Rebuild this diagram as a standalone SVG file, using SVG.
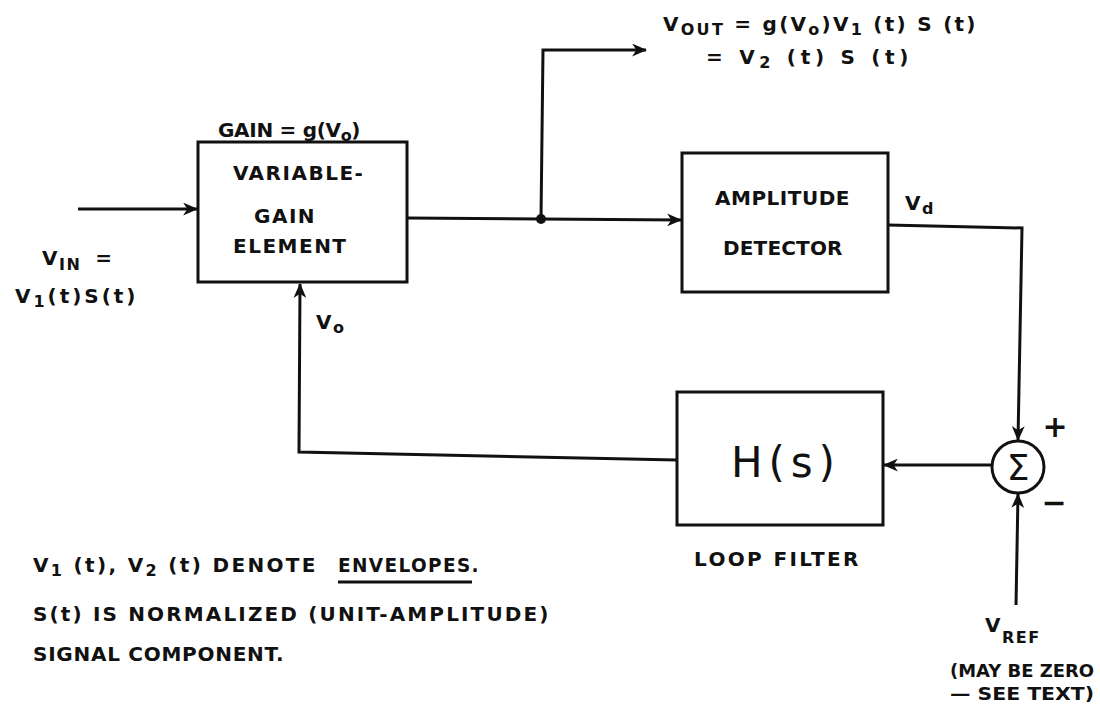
<svg xmlns="http://www.w3.org/2000/svg" width="1100" height="718" viewBox="0 0 1100 718">
<style>
.t{font-family:"DejaVu Sans","Liberation Sans",sans-serif;font-weight:bold;font-size:20px;letter-spacing:1.5px;fill:#111}
.s{font-size:16px}
.box{fill:none;stroke:#111;stroke-width:3}
.w{fill:none;stroke:#111;stroke-width:3}
</style>
<defs>
<marker id="ah" viewBox="0 0 14 12" refX="13" refY="6" markerWidth="15" markerHeight="13" markerUnits="userSpaceOnUse" orient="auto">
<path d="M0,0 L14,6 L0,12 L4,6 Z" fill="#111"/>
</marker>
</defs>
<rect width="1100" height="718" fill="#fff"/>

<g id="connectors">
<polyline class="w" points="78,209 197,209" marker-end="url(#ah)"/>
<polyline class="w" points="407,218 541,219 681,220" marker-end="url(#ah)"/>
<polyline class="w" points="541,219 543,50 646,50" marker-end="url(#ah)"/>
<circle cx="541" cy="219" r="5" fill="#111"/>
<polyline class="w" points="888,225 1022,228 1018,440" marker-end="url(#ah)"/>
<polyline class="w" points="992,465 884,465" marker-end="url(#ah)"/>
<polyline class="w" points="1016,605 1018,494" marker-end="url(#ah)"/>
<polyline class="w" points="677,460 299,452 300,284" marker-end="url(#ah)"/>
</g>

<g id="vge">
<rect class="box" x="198" y="142" width="209" height="140"/>
<text class="t" x="233" y="180">VARIABLE-</text>
<text class="t" x="254" y="223">GAIN</text>
<text class="t" x="233" y="253">ELEMENT</text>
</g>

<g id="detector">
<rect class="box" x="682" y="153" width="206" height="139"/>
<text class="t" x="715" y="205" textLength="136" lengthAdjust="spacing">AMPLITUDE</text>
<text class="t" x="723" y="255" textLength="121" lengthAdjust="spacing">DETECTOR</text>
</g>

<g id="filter">
<rect class="box" x="677" y="392" width="206" height="133"/>
<text x="731" y="477" textLength="104" lengthAdjust="spacing" style="font-family:'DejaVu Sans',sans-serif;font-size:42px;fill:#111">H(s)</text>
<text class="t" x="694" y="566" textLength="166" lengthAdjust="spacing">LOOP FILTER</text>
</g>

<g id="sum">
<circle class="box" cx="1018" cy="467" r="26"/>
<text x="1018" y="480" text-anchor="middle" style="font-family:'DejaVu Sans',sans-serif;font-size:36px;fill:#111">Σ</text>
<text class="t" x="1055" y="437" text-anchor="middle" style="font-size:30px;letter-spacing:0">+</text>
<text class="t" x="1054" y="513" text-anchor="middle" style="font-size:30px;letter-spacing:0">−</text>
</g>

<g id="labels">
<text class="t" x="218" y="137" textLength="144" lengthAdjust="spacing">GAIN = g(V<tspan class="s" dy="4">o</tspan><tspan dy="-4">)</tspan></text>
<text class="t" x="42" y="265">V<tspan class="s" dy="5">IN</tspan><tspan dx="14" dy="-5">=</tspan></text>
<text class="t" x="15" y="303" textLength="122" lengthAdjust="spacing">V<tspan class="s" dy="4">1</tspan><tspan dy="-4">(t)S(t)</tspan></text>
<text class="t" x="316" y="329">V<tspan class="s" dy="4">o</tspan></text>
<text class="t" x="905" y="210">V<tspan class="s" dy="4">d</tspan></text>
<text class="t" x="663" y="31" textLength="314" lengthAdjust="spacing">V<tspan class="s" dy="4">OUT</tspan><tspan dy="-4"> = g(V</tspan><tspan class="s" dy="4">o</tspan><tspan dy="-4">)V</tspan><tspan class="s" dy="4">1</tspan><tspan dy="-4"> (t) S (t)</tspan></text>
<text class="t" x="706" y="64" textLength="204" lengthAdjust="spacing">= V<tspan class="s" dy="4">2</tspan><tspan dy="-4"> (t) S (t)</tspan></text>
<text class="t" x="985" y="632">V<tspan class="s" dy="11">REF</tspan></text>
<text class="t" x="1094" y="677" text-anchor="end" textLength="144" lengthAdjust="spacingAndGlyphs" style="font-size:18px;letter-spacing:0">(MAY BE ZERO</text>
<text class="t" x="1094" y="700" text-anchor="end" textLength="144" lengthAdjust="spacingAndGlyphs" style="font-size:18px;letter-spacing:0">— SEE TEXT)</text>
<text class="t" x="33" y="572" textLength="284" lengthAdjust="spacing">V<tspan class="s" dy="4">1</tspan><tspan dy="-4"> (t),  V</tspan><tspan class="s" dy="4">2</tspan><tspan dy="-4"> (t)  DENOTE</tspan></text>
<text class="t" x="338" y="572" textLength="142" lengthAdjust="spacingAndGlyphs">ENVELOPES.</text>
<line x1="338" y1="582" x2="472" y2="582" stroke="#111" stroke-width="3"/>
<text class="t" x="33" y="621" textLength="517" lengthAdjust="spacing">S(t) IS NORMALIZED (UNIT-AMPLITUDE)</text>
<text class="t" x="33" y="661" textLength="252" lengthAdjust="spacing">SIGNAL COMPONENT.</text>
</g>
</svg>
